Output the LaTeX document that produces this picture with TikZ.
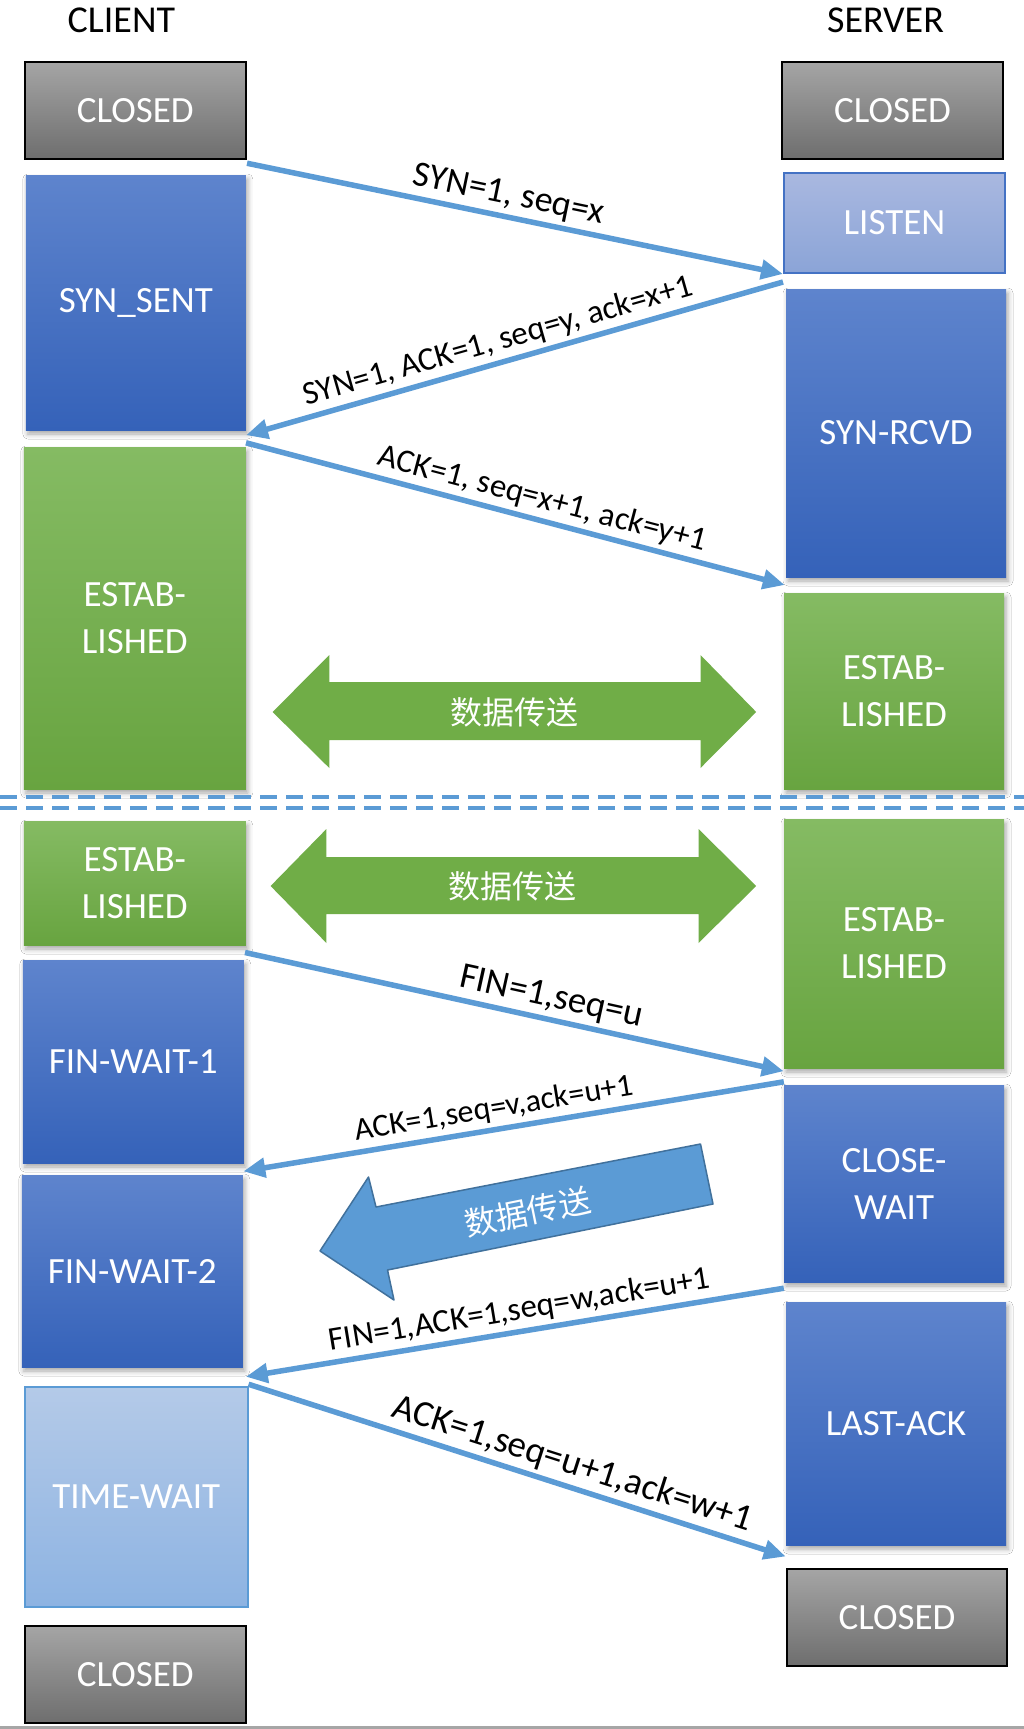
\documentclass[tikz,border=0pt]{standalone}
\usepackage{fontspec}
\setmainfont{Carlito}
\newfontfamily\cjk{Noto Sans CJK SC}
\usetikzlibrary{arrows.meta,shadows.blur,calc}
\definecolor{msgblue}{HTML}{5B9BD5}
\definecolor{grayA}{HTML}{A5A5A5}
\definecolor{grayB}{HTML}{6E6E6E}
\definecolor{blueA}{HTML}{5E84CD}
\definecolor{blueB}{HTML}{3562B9}
\definecolor{greenA}{HTML}{85BB63}
\definecolor{greenB}{HTML}{68A440}
\definecolor{listA}{HTML}{A9B8E0}
\definecolor{listB}{HTML}{8BA4D7}
\definecolor{listD}{HTML}{4472C4}
\definecolor{timeA}{HTML}{B4CAE8}
\definecolor{timeB}{HTML}{8DB3E2}
\definecolor{arrgreen}{HTML}{70AD47}
\definecolor{arrblueD}{HTML}{41719C}
\tikzset{
  box/.style={rectangle, inner sep=0pt, text=white, align=center, font=\fontsize{37}{47}\selectfont},
  shad/.style={blur shadow={shadow xshift=2pt, shadow yshift=-4pt, shadow blur radius=5pt, shadow opacity=35}},
  graybox/.style={box, top color=grayA, bottom color=grayB, draw=black, line width=2.5pt},
  bluebox/.style={box, shad, top color=blueA, bottom color=blueB},
  greenbox/.style={box, shad, top color=greenA, bottom color=greenB},
  listenbox/.style={box, top color=listA, bottom color=listB, draw=listD, line width=2pt},
  timebox/.style={box, top color=timeA, bottom color=timeB, draw=msgblue, line width=1.5pt},
  hdr/.style={text=black, font=\fontsize{38}{40}\selectfont, inner sep=0pt},
  msg/.style={draw=msgblue, line width=5.5pt, -{Triangle[length=22pt,width=19pt]}},
  msgback/.style={draw=msgblue, line width=5.5pt, {Triangle[length=22pt,width=19pt]}-},
  lbl/.style={sloped, above=1pt, inner sep=3pt, text=black},
  cjklbl/.style={text=white, font=\cjk\fontsize{32}{34}\selectfont, inner sep=0pt}
}
\begin{document}
\begin{tikzpicture}[x=1pt,y=-1pt]
\useasboundingbox (0,0) rectangle (1024,1729);
\fill[white] (0,0) rectangle (1024,1729);

% headers
\node[hdr] (client) at (121.4,20) {CLIENT};
\node[hdr] (server) at (885.5,20) {SERVER};

% client states
\node[graybox, minimum width=221pt, minimum height=97pt] (cC1) at (135.3,110.5) {CLOSED};
\node[bluebox, minimum width=220pt, minimum height=255pt] (cSS) at (135.8,302.5) {SYN\_SENT};
\node[greenbox, minimum width=222pt, minimum height=342pt] (cE1) at (134.8,618) {ESTAB-\\LISHED};
\node[greenbox, minimum width=222pt, minimum height=124pt] (cE2) at (134.8,883) {ESTAB-\\LISHED};
\node[bluebox, minimum width=221pt, minimum height=203pt] (cFW1) at (133.3,1061.5) {FIN-WAIT-1};
\node[bluebox, minimum width=221pt, minimum height=192pt] (cFW2) at (132.3,1271) {FIN-WAIT-2};
\node[timebox, minimum width=223pt, minimum height=220pt] (cTW) at (136.3,1497) {TIME-WAIT};
\node[graybox, minimum width=221pt, minimum height=97pt] (cC2) at (135.3,1674.5) {CLOSED};

% server states
\node[graybox, minimum width=221pt, minimum height=97pt] (sC1) at (892.5,110.5) {CLOSED};
\node[listenbox, minimum width=221pt, minimum height=100pt] (sL) at (894.5,223) {LISTEN};
\node[bluebox, minimum width=220pt, minimum height=288pt] (sSR) at (896,433) {SYN-RCVD};
\node[greenbox, minimum width=220pt, minimum height=196pt] (sE1) at (894,691) {ESTAB-\\LISHED};
\node[greenbox, minimum width=220pt, minimum height=249pt] (sE2) at (894,943.5) {ESTAB-\\LISHED};
\node[bluebox, minimum width=220pt, minimum height=197pt] (sCW) at (894,1183.5) {CLOSE-\\WAIT};
\node[bluebox, minimum width=220pt, minimum height=243pt] (sLA) at (896,1423.5) {LAST-ACK};
\node[graybox, minimum width=220pt, minimum height=97pt] (sC2) at (897,1617.5) {CLOSED};

% data transfer double arrows
\fill[arrgreen] (272.6,712) -- (329.3,655) -- (329.3,682) -- (700.5,682) -- (700.5,655) -- (756.2,712)
  -- (700.5,768) -- (700.5,740) -- (329.3,740) -- (329.3,768) -- cycle;
\node[cjklbl] (d1) at (514.4,712) {数据传送};
\fill[arrgreen] (270.6,886) -- (326.4,829) -- (326.4,857) -- (698.5,857) -- (698.5,829) -- (756.2,886)
  -- (698.5,943) -- (698.5,914) -- (326.4,914) -- (326.4,943) -- cycle;
\node[cjklbl] (d2) at (512.4,886) {数据传送};

% one-way data arrow
\filldraw[fill=msgblue, draw=arrblueD, line width=1.5pt, line join=round]
  (700.5,1144) -- (713,1204) -- (387.5,1270) -- (394,1300) -- (320,1251) -- (368.5,1177) -- (376,1207) -- cycle;
\node[cjklbl, rotate=11.5] (d3) at (527.3,1212) {数据传送};

% dashed separator
\draw[msgblue, line width=3.5pt, dash pattern=on 17pt off 9pt] (0,797) -- (1024,797);
\draw[msgblue, line width=3.5pt, dash pattern=on 17pt off 9pt] (0,808) -- (1024,808);

% bottom rule
\draw[gray!70, line width=3pt] (0,1727) -- (1024,1727);

% messages
\draw[msg] ([yshift=-3pt]cC1.south east) --
  node[lbl, pos=.48, font=\fontsize{36}{38}\selectfont] (m1) {SYN=1, seq=x} (sL.south west);
\draw[msgback] ([yshift=-5pt]cSS.south east) --
  node[lbl, pos=.48, font=\fontsize{33}{35}\selectfont] (m2) {SYN=1, ACK=1, seq=y, ack=x+1} ([yshift=-8pt]sL.south west);
\draw[msg] ([yshift=4pt]cE1.north east) --
  node[lbl, pos=.54, font=\fontsize{33}{35}\selectfont] (m3) {ACK=1, seq=x+1, ack=y+1} ($(sSR.south west)!.5!(sE1.north west)$);
\draw[msg] ($(cE2.south east)!.5!(cFW1.north east)$) --
  node[lbl, pos=.56, font=\fontsize{37}{39}\selectfont] (m4) {FIN=1,seq=u} ([yshift=-3pt]sE2.south west);
\draw[msgback] ($(cFW1.south east)!.7!(cFW2.north east)$) --
  node[lbl, pos=.47, font=\fontsize{32}{34}\selectfont] (m5) {ACK=1,seq=v,ack=u+1} ([yshift=3pt]sCW.north west);
\draw[msgback] ($(cFW2.south east)!.5!(cTW.north east)$) --
  node[lbl, pos=.515, font=\fontsize{33}{35}\selectfont] (m6) {FIN=1,ACK=1,seq=w,ack=u+1} ([yshift=-6pt]sCW.south west);
\draw[msg] ([yshift=2pt]cTW.north east) --
  node[lbl, pos=.59, font=\fontsize{37}{39}\selectfont] (m7) {ACK=1,seq=u+1,ack=w+1} ($(sLA.south west)!.5!(sC2.north west)$);
\end{tikzpicture}
\end{document}
